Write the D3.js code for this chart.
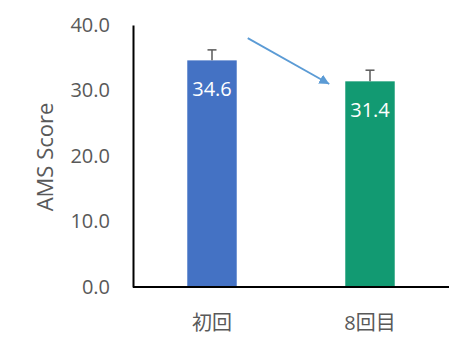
<!DOCTYPE html>
<html><head><meta charset="utf-8">
<script src="https://cdn.jsdelivr.net/npm/d3@7"></script>
<style>
html,body{margin:0;padding:0;background:#fff;}
text{font-family:"Open Sans","Noto Sans CJK JP",sans-serif;}
</style></head>
<body><svg id="c" width="472" height="354"></svg>
<script>
const categories = ["初回", "8回目"];
const values = [34.6, 31.4];
const errors = [1.6, 1.7];
const colors = ["#4472C4", "#129A72"];
const yTicks = [0, 10, 20, 30, 40];
const yTitle = "AMS Score";

const svg = d3.select("#c");
const m = {left: 133, right: 23, top: 25, bottom: 67};
const W = 472, H = 354;

const x = d3.scaleBand().domain(categories).range([m.left, W - m.right])
  .paddingInner(0.687).paddingOuter(0.3435);
const y = d3.scaleLinear().domain([0, 40]).range([H - m.bottom, m.top]);

// bars
svg.selectAll("rect.bar").data(values).enter().append("rect")
  .attr("x", (d, i) => x(categories[i]))
  .attr("y", d => y(d))
  .attr("width", x.bandwidth())
  .attr("height", d => y(0) - y(d))
  .attr("fill", (d, i) => colors[i]);

// error bars
const eg = svg.append("g").attr("stroke", "#595959").attr("stroke-width", 1.5);
values.forEach((v, i) => {
  const cx = x(categories[i]) + x.bandwidth() / 2;
  eg.append("line").attr("x1", cx).attr("x2", cx).attr("y1", y(v)).attr("y2", y(v + errors[i]));
  eg.append("line").attr("x1", cx - 4.5).attr("x2", cx + 4.5).attr("y1", y(v + errors[i])).attr("y2", y(v + errors[i]));
});

// value labels
svg.selectAll("text.val").data(values).enter().append("text")
  .attr("x", (d, i) => x(categories[i]) + x.bandwidth() / 2)
  .attr("y", d => y(d) + 30)
  .attr("text-anchor", "middle").attr("dominant-baseline", "middle")
  .attr("fill", "#fff").attr("font-size", 20)
  .text(d => d.toFixed(1));

// y axis
const yAxis = d3.axisLeft(y).tickValues(yTicks).tickFormat(d => d.toFixed(1)).tickSize(0).tickPadding(23);
const ya = svg.append("g").attr("transform", `translate(${m.left},0)`).call(yAxis);
ya.select(".domain").attr("stroke", "#000").attr("stroke-width", 2);
ya.selectAll("text").attr("font-size", 20).attr("fill", "#595959").attr("font-family", '"Open Sans",sans-serif');

// x axis
const xAxis = d3.axisBottom(x).tickSize(0).tickPadding(36);
const xa = svg.append("g").attr("transform", `translate(0,${y(0)})`).call(xAxis);
xa.select(".domain").attr("stroke", "#000").attr("stroke-width", 2).attr("d", `M${m.left},0H${W - m.right}`);
xa.selectAll("text").attr("font-size", 20).attr("fill", "#595959").attr("dy", "0.35em")
  .attr("font-family", '"Open Sans","Noto Sans CJK JP",sans-serif');

// y title
svg.append("text")
  .attr("transform", `translate(47,157) rotate(-90)`)
  .attr("text-anchor", "middle").attr("dominant-baseline", "middle")
  .attr("font-size", 22).attr("fill", "#595959")
  .text(yTitle);

// arrow annotation
const defs = svg.append("defs");
defs.append("marker").attr("id", "ah").attr("viewBox", "0 0 10 10").attr("refX", 10).attr("refY", 5)
  .attr("markerWidth", 10).attr("markerHeight", 10).attr("markerUnits", "userSpaceOnUse").attr("orient", "auto")
  .append("path").attr("d", "M0,0L10,5L0,10Z").attr("fill", "#5B9BD5");
const x0 = x(categories[0]) + x.bandwidth() + 11;
const x1 = x(categories[1]) - 16;
svg.append("line")
  .attr("x1", x0).attr("y1", y(38.0))
  .attr("x2", x1).attr("y2", y(31.0))
  .attr("stroke", "#5B9BD5").attr("stroke-width", 1.8)
  .attr("marker-end", "url(#ah)");
</script></body></html>
